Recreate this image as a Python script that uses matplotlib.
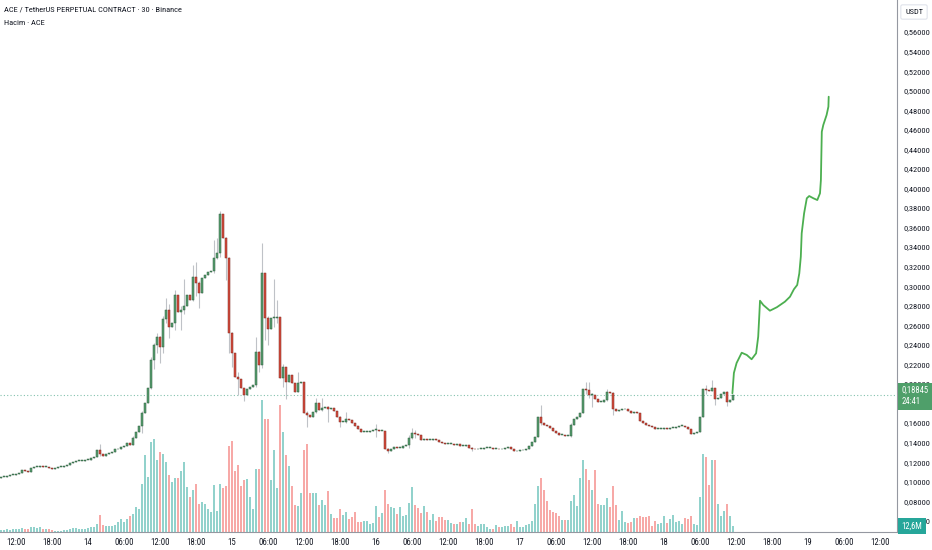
import numpy as np
import matplotlib
matplotlib.use("Agg")
import matplotlib.pyplot as plt
import matplotlib.transforms as mtransforms

plt.rcParams['font.family'] = ['Roboto Condensed', 'Archivo Narrow', 'Barlow Condensed', 'DejaVu Sans']

# ---- data (prices in 0.001 USDT, 30 min candles from 13th 09:30) ----
first_open = 104
closes = [
    105, 105, 106, 107, 107, 108, 109, 112, 111, 110,
    114, 115, 115, 116, 115, 115, 114, 113, 114, 115,
    115, 116, 117, 119, 120, 121, 121, 121, 122, 122,
    124, 125, 132, 128, 126, 128, 129, 130, 133, 134,
    136, 137, 140, 138, 145, 151, 157, 170, 181, 196,
    225, 240, 248, 238, 267, 276, 258, 262, 291, 274,
    276, 280, 291, 286, 309, 303, 293, 308, 311, 315,
    316, 329, 334, 374, 349, 329, 252, 232, 207, 205,
    196, 189, 195, 197, 199, 233, 219, 314, 268, 256,
    268, 268, 269, 206, 217, 202, 209, 201, 192, 201,
    202, 170, 168, 166, 171, 181, 173, 175, 176, 174,
    175, 172, 166, 161, 161, 164, 163, 160, 157, 154,
    151, 151, 151, 152, 153, 153, 152, 152, 134, 131,
    134, 136, 135, 135, 137, 138, 145, 150, 149, 148,
    143, 144, 143, 143, 144, 143, 141, 140, 139, 139,
    139, 138, 139, 137, 137, 138, 135, 134, 133, 134,
    134, 135, 135, 135, 134, 134, 133, 134, 135, 136,
    133, 131, 131, 132, 132, 134, 137, 141, 146, 166,
    160, 158, 157, 155, 152, 150, 148, 148, 147, 147,
    158, 164, 166, 170, 195, 194, 189, 189, 185, 182,
    182, 184, 192, 191, 174, 172, 173, 174, 174, 172,
    170, 171, 170, 162, 160, 158, 157, 156, 154, 154,
    154, 155, 154, 155, 155, 156, 157, 157, 156, 154,
    149, 150, 151, 166, 195, 194, 193, 196, 185, 186,
    190, 192, 182, 184, 188.45,
]

# visible wicks: candle index -> (high, low)
wicks = {
    33: (139, 126), 44: (147, 138), 47: (172, 150), 50: (228, 195),
    51: (242, 215), 52: (252, 232), 53: (249, 221), 54: (270, 232),
    55: (288, 262), 56: (282, 247), 58: (296, 255), 60: (280, 255),
    61: (307, 272), 64: (322, 285), 65: (325, 290), 66: (305, 278),
    71: (347, 314), 72: (349, 328), 73: (377, 330), 75: (350, 306),
    76: (330, 232), 77: (253, 217), 79: (212, 189), 81: (196, 183),
    85: (248, 197), 86: (234, 212), 87: (344, 216), 88: (314, 245),
    89: (270, 240), 91: (307, 258), 92: (286, 262), 94: (220, 197),
    95: (217, 185), 99: (212, 192), 102: (172, 156), 105: (186, 170),
    107: (186, 172), 109: (177, 161), 113: (167, 156), 115: (171, 160),
    125: (159, 146), 129: (135, 129), 136: (148, 135), 137: (155, 144),
    138: (153, 145), 157: (136, 131), 180: (179, 158), 190: (160, 146),
    195: (202, 190), 196: (202, 186), 197: (191, 176), 202: (195, 183),
    204: (192, 168), 235: (199, 190), 237: (204, 193), 238: (196, 179),
    242: (193, 178),
}

# volume, millions ACE
volumes = [
    4, 4, 6, 4, 6, 6, 6, 9, 6, 6,
    10, 10, 8, 11, 6, 6, 6, 4, 3, 3,
    3, 4, 5, 6, 9, 9, 6, 7, 7, 9,
    10, 11, 17, 34, 14, 12, 12, 13, 14, 21,
    27, 21, 27, 32, 37, 51, 47, 97, 154, 111,
    181, 187, 144, 161, 157, 141, 114, 101, 109, 109,
    123, 141, 91, 71, 85, 96, 57, 61, 57, 47,
    41, 94, 43, 97, 89, 92, 172, 183, 123, 134,
    92, 104, 107, 71, 46, 127, 127, 264, 227, 227,
    104, 165, 89, 254, 201, 154, 132, 92, 54, 52,
    79, 165, 177, 79, 79, 79, 54, 65, 54, 82,
    37, 29, 29, 46, 34, 41, 26, 31, 41, 21,
    21, 22, 22, 17, 18, 52, 31, 39, 84, 56,
    51, 49, 36, 51, 33, 34, 59, 91, 54, 49,
    39, 53, 41, 24, 37, 23, 31, 31, 25, 25,
    19, 17, 16, 21, 21, 29, 16, 47, 16, 13,
    17, 16, 11, 7, 7, 14, 11, 11, 12, 13,
    16, 11, 23, 11, 11, 14, 16, 23, 56, 92,
    109, 84, 63, 44, 41, 39, 32, 25, 25, 25,
    62, 74, 52, 109, 145, 127, 105, 85, 125, 56,
    54, 54, 69, 51, 92, 54, 24, 43, 21, 19,
    21, 29, 29, 32, 31, 31, 32, 12, 22, 17,
    19, 32, 19, 27, 35, 21, 22, 16, 29, 27,
    32, 17, 14, 71, 157, 151, 94, 145, 144, 57,
    32, 43, 56, 32, 12.6,
]

time_labels = ["12:00", "18:00", "14", "06:00", "12:00", "18:00", "15", "06:00",
               "12:00", "18:00", "16", "06:00", "12:00", "18:00", "17", "06:00",
               "12:00", "18:00", "18", "06:00", "12:00", "18:00", "19", "06:00", "12:00"]
# 0,18000 sits under the last-price tag, so it is not shown
price_ticks = [0.06, 0.08, 0.10, 0.12, 0.14, 0.16, 0.20, 0.22, 0.24, 0.26,
               0.28, 0.30, 0.32, 0.34, 0.36, 0.38, 0.40, 0.42, 0.44, 0.46, 0.48,
               0.50, 0.52, 0.54, 0.56]

# hand drawn projection (bar index, price)
proj_idx = [243.8, 244.3, 245.2, 246.9, 248.6, 250.2, 251.7, 252.4, 252.8, 253.0,
            254.1, 256.3, 258.6, 261.3, 263.0, 264.3, 265.4, 266.1, 266.6, 266.9,
            267.7, 268.6, 269.4, 270.8, 272.1, 273.0, 273.3, 273.6, 274.1, 275.2,
            275.8, 275.9]
proj_price = [0.1905, 0.2113, 0.2215, 0.2320, 0.2297, 0.2253, 0.2314, 0.2484, 0.2723, 0.2852,
              0.2808, 0.2750, 0.2785, 0.2842, 0.2893, 0.2969, 0.3013, 0.3132, 0.3302, 0.3542,
              0.3746, 0.3900, 0.3923, 0.3900, 0.3882, 0.3951, 0.4087, 0.4581, 0.4650, 0.4752,
              0.4837, 0.4939]

last_price = 0.18845
last_volume = 12.6
countdown = "24:41"

# ---- build candles ----
c = np.array(closes) / 1000.0
o = np.r_[first_open / 1000.0, c[:-1]]
hi = np.maximum(o, c)
lo = np.minimum(o, c)
for k, (h, l) in wicks.items():
    hi[k] = max(hi[k], h / 1000.0)
    lo[k] = min(lo[k], l / 1000.0)
idx = np.arange(len(c))
up = c >= o

W, H = 932, 550
fig = plt.figure(figsize=(W / 100, H / 100), dpi=100, facecolor='white')
ax = fig.add_axes([0, 18 / H, 897 / W, 532 / H])
ax2 = ax.twinx()
ax.set_zorder(2)
ax2.set_zorder(1)
ax.patch.set_visible(False)

# volume
vcol = np.where(up, '#92d2cc', '#f7a9a7')
ax2.bar(idx, volumes, width=0.72, color=vcol, linewidth=0)
ax2.set_ylim(0, 1064)
ax2.axis('off')

# candles
ax.vlines(idx, lo, hi, color='#bfc2c7', lw=0.8, zorder=2)
body_h = np.maximum(np.abs(c - o), 0.0009)
ax.bar(idx, body_h, bottom=np.minimum(o, c), width=0.78,
       color=np.where(up, '#579e6f', '#d64b3d'),
       edgecolor=np.where(up, '#2f5e3f', '#7d2c23'), linewidth=0.35, zorder=3)

ax.plot(proj_idx, proj_price, color='#4caf50', lw=1.3, zorder=5,
        solid_joinstyle='round', solid_capstyle='round')
ax.axhline(last_price, color='#4fa88a', lw=0.8, ls=(0, (1, 2)), alpha=0.7, zorder=1)

ax.set_xlim(-1 / 3, 896 / 3)
ax.set_ylim(0.2 - 148 / 977.5, 0.2 + 384 / 977.5)

for s in ['top', 'left']:
    ax.spines[s].set_visible(False)
for s in ['right', 'bottom']:
    ax.spines[s].set_color('#9598a1')
    ax.spines[s].set_linewidth(0.8)

ax.yaxis.tick_right()
ax.set_yticks(price_ticks)
ax.set_yticklabels([f"{v:.5f}".replace('.', ',') for v in price_ticks])
ax.tick_params(axis='y', length=0, pad=5, labelsize=6, labelcolor='#131722')

ax.set_xticks(np.arange(len(time_labels)) * 12 + 5)
ax.set_xticklabels(time_labels)
ax.tick_params(axis='x', length=0, pad=4, labelsize=6.3, labelcolor='#131722')

# right-side labels
tr_p = mtransforms.blended_transform_factory(ax.transAxes, ax.transData)
ax.text(1.005, last_price - 0.001, f"{last_price:.5f}".replace('.', ',') + "\n" + countdown,
        transform=tr_p, ha='left', va='center', fontsize=6.2, color='white',
        linespacing=1.35, clip_on=False, zorder=10,
        bbox=dict(boxstyle='square,pad=0.38', fc='#4f9f6a', ec='none'))
tr_v = mtransforms.blended_transform_factory(ax.transAxes, ax2.transData)
ax.text(1.005, last_volume, f"{last_volume:.1f}M".replace('.', ','),
        transform=tr_v, ha='left', va='center', fontsize=6.2, color='white',
        clip_on=False, zorder=10,
        bbox=dict(boxstyle='square,pad=0.4', fc='#26a69a', ec='none'))

fig.text(914 / W, 1 - 12 / H, "USDT", ha='center', va='center', fontsize=6,
         color='#131722',
         bbox=dict(boxstyle='round,pad=0.5,rounding_size=0.2', fc='white', ec='#e0e3eb', lw=0.8))

fig.text(4 / W, 1 - 10 / H, "ACE / TetherUS PERPETUAL CONTRACT · 30 · Binance",
         ha='left', va='center', fontsize=6, color='#131722')
fig.text(4 / W, 1 - 23 / H, "Hacim · ACE", ha='left', va='center', fontsize=6,
         color='#131722')

fig.savefig("out.png", dpi=100, facecolor='white')
